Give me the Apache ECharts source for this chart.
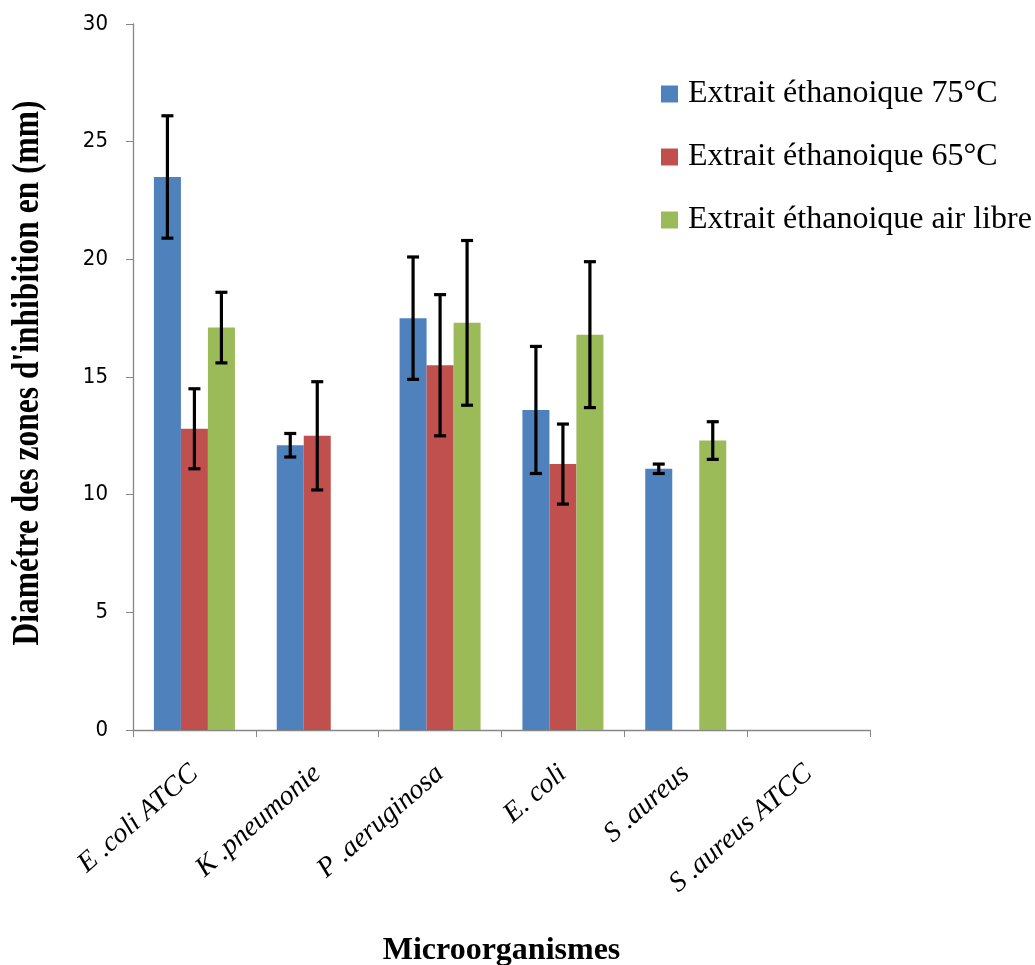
<!DOCTYPE html>
<html>
<head>
<meta charset="utf-8">
<script src="https://cdn.jsdelivr.net/npm/echarts@6/dist/echarts.min.js"></script>
<style>
  html, body { margin: 0; padding: 0; background: #ffffff; }
  #chart { width: 1035px; height: 965px; }
</style>
</head>
<body>
<div id="chart"></div>
<script>
// Inhibition zone diameters (mm) per microorganism and extract
const categories = ['E .coli ATCC', 'K .pneumonie', 'P .aeruginosa', 'E. coli', 'S .aureus', 'S .aureus ATCC'];
const seriesNames = ['Extrait éthanoique 75°C', 'Extrait éthanoique 65°C', 'Extrait éthanoique air libre'];
const values75 = [23.5, 12.1, 17.5, 13.6, 11.1, 0];
const values65 = [12.8, 12.5, 15.5, 11.3, 0, 0];
const valuesAir = [17.1, 0, 17.3, 16.8, 12.3, 0];
// Standard deviations (error bars)
const err75 = [2.6, 0.5, 2.6, 2.7, 0.2, 0];
const err65 = [1.7, 2.3, 3.0, 1.7, 0, 0];
const errAir = [1.5, 0, 3.5, 3.1, 0.8, 0];
const yTicks = [0, 5, 10, 15, 20, 25, 30];
const yTitle = "Diamétre des zones d'inhibition en (mm)";
const xTitle = 'Microorganismes';

const colors = ['#4F81BD', '#C0504D', '#9BBB59'];
const BAR_W = 27;

const values = [values75, values65, valuesAir];
const errors = [err75, err65, errAir];

const chart = echarts.init(document.getElementById('chart'));

const barSeries = values.map((v, s) => ({
  name: seriesNames[s],
  type: 'bar',
  data: v,
  barWidth: BAR_W,
  barGap: '0%',
  itemStyle: { color: colors[s] },
  z: 2
}));

// Error bars drawn at each bar's centre from value ± error
const errSeries = errors.map((e, s) => ({
  type: 'custom',
  name: seriesNames[s] + ' err',
  data: e.map((d, i) => [i, values[s][i], d]),
  z: 5,
  silent: true,
  renderItem: function (params, api) {
    const i = api.value(0), val = api.value(1), er = api.value(2);
    if (!er) return null;
    const off = (s - 1) * BAR_W;
    const top = api.coord([i, val + er]);
    const bot = api.coord([i, val - er]);
    const x = top[0] + off;
    const cap = 6;
    const st = { stroke: '#000', lineWidth: 3.2 };
    return {
      type: 'group',
      children: [
        { type: 'line', shape: { x1: x, y1: top[1], x2: x, y2: bot[1] }, style: st },
        { type: 'line', shape: { x1: x - cap, y1: top[1], x2: x + cap, y2: top[1] }, style: st },
        { type: 'line', shape: { x1: x - cap, y1: bot[1], x2: x + cap, y2: bot[1] }, style: st }
      ]
    };
  }
}));

chart.setOption({
  animation: false,
  backgroundColor: '#ffffff',
  grid: { left: 133, right: 165, top: 24, bottom: 235, containLabel: false, outerBoundsMode: 'none' },
  legend: {
    data: seriesNames,
    orient: 'vertical',
    left: 656,
    top: 73,
    icon: 'rect',
    itemWidth: 17,
    itemHeight: 17,
    itemGap: 31,
    textStyle: { fontFamily: 'Liberation Serif', fontSize: 32, color: '#000', padding: [0, 0, 0, 5] }
  },
  // Condensed, rotated y-axis title
  graphic: [{
    type: 'text',
    x: 28,
    y: 373,
    rotation: Math.PI / 2,
    scaleX: 0.83,
    scaleY: 1,
    style: {
      text: yTitle,
      fontFamily: 'Liberation Serif',
      fontWeight: 'bold',
      fontSize: 38,
      fill: '#000',
      align: 'center',
      verticalAlign: 'middle'
    }
  }],
  xAxis: {
    type: 'category',
    data: categories,
    axisLine: { lineStyle: { color: '#868686', width: 1.3 } },
    axisTick: { show: true, length: 7, alignWithLabel: false, lineStyle: { color: '#868686' } },
    axisLabel: {
      rotate: 41,
      margin: 40,
      interval: 0,
      fontFamily: 'Liberation Serif',
      fontStyle: 'italic',
      fontSize: 28,
      color: '#000'
    },
    name: xTitle,
    nameLocation: 'middle',
    nameGap: 205,
    nameTextStyle: { fontFamily: 'Liberation Serif', fontWeight: 'bold', fontSize: 32, color: '#000' }
  },
  yAxis: {
    type: 'value',
    min: yTicks[0],
    max: yTicks[yTicks.length - 1],
    interval: 5,
    splitLine: { show: false },
    axisLine: { show: true, lineStyle: { color: '#868686', width: 1.3 } },
    axisTick: { show: true, length: 7, lineStyle: { color: '#868686' } },
    axisLabel: { fontFamily: 'DejaVu Sans Condensed, DejaVu Sans', fontSize: 22, color: '#000', margin: 25 }
  },
  series: barSeries.concat(errSeries)
});
</script>
</body>
</html>
